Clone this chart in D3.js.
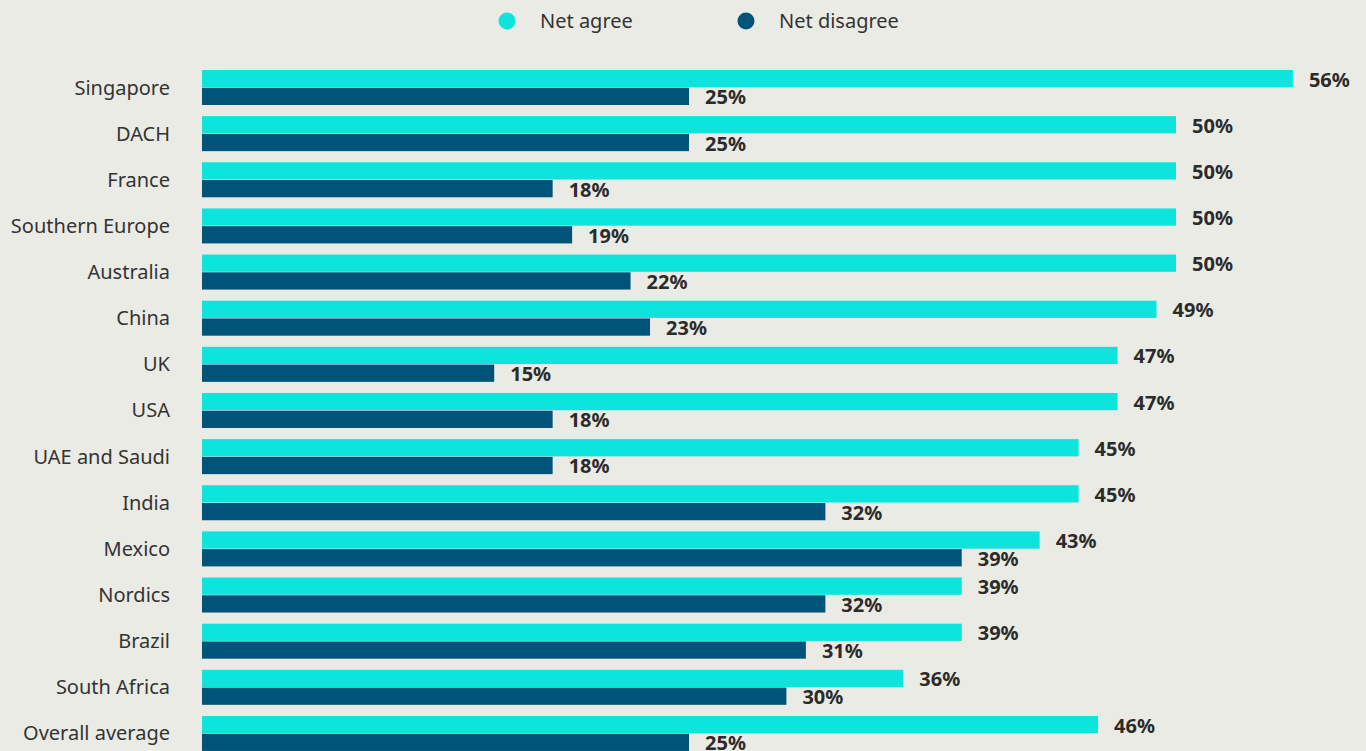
<!DOCTYPE html>
<html>
<head>
<meta charset="utf-8">
<script src="https://cdn.jsdelivr.net/npm/d3@7/dist/d3.min.js"></script>
<style>
  html, body { margin: 0; padding: 0; background: #ebebe6; overflow: hidden; }
  svg { display: block; }
</style>
</head>
<body>
<svg id="chart" width="1366" height="751"></svg>
<script>
const categories = ["Singapore","DACH","France","Southern Europe","Australia","China","UK","USA","UAE and Saudi","India","Mexico","Nordics","Brazil","South Africa","Overall average"];
const netAgree    = [56,50,50,50,50,49,47,47,45,45,43,39,39,36,46];
const netDisagree = [25,25,18,19,22,23,15,18,18,32,39,32,31,30,25];
const seriesNames = ["Net agree","Net disagree"];
const seriesColors = ["#0de5dc","#00547a"];

const svg = d3.select("#chart");
const W = 1366, H = 751;
svg.append("rect").attr("width", W).attr("height", H).attr("fill", "#ebebe6");

const x = d3.scaleLinear().domain([0, 60]).range([202, 202 + 19.48 * 60]);
const step = 46.14, bandH = 35;
const y = d3.scaleBand().domain(categories)
  .range([70, 70 + step * (categories.length - 1) + bandH])
  .paddingInner(1 - bandH / step).paddingOuter(0);
const sub = d3.scaleBand().domain(seriesNames).range([0, y.bandwidth()]).paddingInner(1 / 35);

const rows = categories.map((c, i) => ({ cat: c, vals: [netAgree[i], netDisagree[i]] }));

const g = svg.append("g");
const row = g.selectAll("g.row").data(rows).join("g").attr("class", "row")
  .attr("transform", d => `translate(0,${y(d.cat)})`);

row.selectAll("rect").data(d => d.vals.map((v, k) => ({ v, k })))
  .join("rect")
  .attr("x", x(0))
  .attr("y", d => sub(seriesNames[d.k]))
  .attr("width", d => x(d.v) - x(0))
  .attr("height", sub.bandwidth())
  .attr("fill", d => seriesColors[d.k]);

row.selectAll("text.val").data(d => d.vals.map((v, k) => ({ v, k })))
  .join("text").attr("class", "val")
  .attr("x", d => x(d.v) + 16)
  .attr("y", d => sub(seriesNames[d.k]) + sub.bandwidth() / 2 + 8)
  .attr("font-family", "'Noto Sans', sans-serif")
  .attr("font-weight", "bold")
  .attr("font-size", 20)
  .attr("fill", "#2b2b2b")
  .text(d => d.v + "%");

row.append("text")
  .attr("x", 170)
  .attr("y", y.bandwidth() / 2 + 7)
  .attr("text-anchor", "end")
  .attr("font-family", "'Noto Sans', sans-serif")
  .attr("font-size", 20)
  .attr("fill", "#333333")
  .text(d => d.cat);

// Legend
const legendX = [507, 746];
const lg = svg.append("g");
seriesNames.forEach((name, k) => {
  lg.append("circle").attr("cx", legendX[k]).attr("cy", 21).attr("r", 8.5).attr("fill", seriesColors[k]);
  lg.append("text").attr("x", legendX[k] + 33).attr("y", 28)
    .attr("font-family", "'Noto Sans', sans-serif").attr("font-size", 20)
    .attr("fill", "#333333").text(name);
});
</script>
</body>
</html>
